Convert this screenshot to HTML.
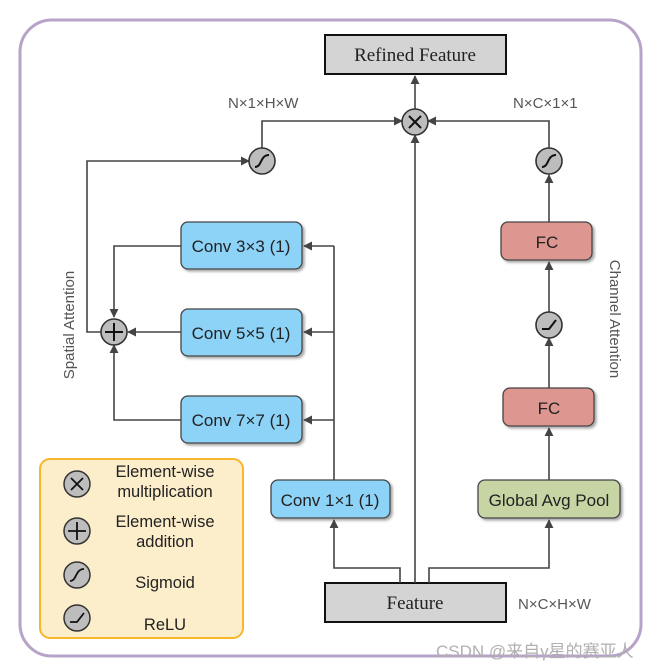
<!DOCTYPE html>
<html><head><meta charset="utf-8"><style>
html,body{margin:0;padding:0;background:#fff;}
svg{display:block;}
.s{font-family:"Liberation Sans","DejaVu Sans",sans-serif;}
</style></head><body>
<svg width="671" height="667" viewBox="0 0 671 667" xmlns="http://www.w3.org/2000/svg">
<defs>
<marker id="a" viewBox="0 0 10 10" refX="9" refY="5" markerWidth="9" markerHeight="9" markerUnits="userSpaceOnUse" orient="auto"><path d="M0,0 L10,5 L0,10 z" fill="#444"/></marker>
<filter id="sh" x="-10%" y="-10%" width="130%" height="140%"><feDropShadow dx="2" dy="2" stdDeviation="1.2" flood-color="#000" flood-opacity="0.35"/></filter>
</defs>
<rect x="20" y="20" width="621" height="636" rx="32" fill="#fff" stroke="#b8a3c8" stroke-width="3"/>

<rect x="325" y="35" width="181" height="39" fill="#d4d4d4" stroke="#111" stroke-width="2"/>
<text x="415" y="61" font-family="Liberation Serif,serif" font-size="19" text-anchor="middle" fill="#222">Refined Feature</text>
<rect x="325" y="583" width="181" height="39" fill="#d4d4d4" stroke="#111" stroke-width="2"/>
<text x="415" y="609" font-family="Liberation Serif,serif" font-size="19" text-anchor="middle" fill="#222">Feature</text>

<g filter="url(#sh)" stroke="#444" stroke-width="1.3">
<rect x="181" y="222" width="121" height="47" rx="7" fill="#8dd3f8"/>
<rect x="181" y="309" width="121" height="47" rx="7" fill="#8dd3f8"/>
<rect x="181" y="396" width="121" height="47" rx="7" fill="#8dd3f8"/>
<rect x="271" y="480" width="119" height="38" rx="7" fill="#8dd3f8"/>
<rect x="501" y="222" width="91" height="38" rx="7" fill="#de9690"/>
<rect x="503" y="388" width="91" height="38" rx="7" fill="#de9690"/>
<rect x="478" y="480" width="142" height="38" rx="7" fill="#c6d5a3"/>
</g>
<g class="s" font-size="17" text-anchor="middle" fill="#222">
<text x="241" y="252">Conv 3×3 (1)</text>
<text x="241" y="339">Conv 5×5 (1)</text>
<text x="241" y="426">Conv 7×7 (1)</text>
<text x="330" y="506">Conv 1×1 (1)</text>
<text x="547" y="248">FC</text>
<text x="549" y="414">FC</text>
<text x="549" y="506">Global Avg Pool</text>
</g>

<g stroke="#444" stroke-width="1.6" fill="none">
<path d="M415 109 V76" marker-end="url(#a)"/>
<path d="M415 583 V135" marker-end="url(#a)"/>
<path d="M262 149 V121 H402" marker-end="url(#a)"/>
<path d="M549 149 V121 H428" marker-end="url(#a)"/>
<path d="M549 222 V175" marker-end="url(#a)"/>
<path d="M549 312 V262" marker-end="url(#a)"/>
<path d="M549 388 V338" marker-end="url(#a)"/>
<path d="M549 480 V428" marker-end="url(#a)"/>
<path d="M429 583 V568 H549 V520" marker-end="url(#a)"/>
<path d="M400 583 V568 H334 V520" marker-end="url(#a)"/>
<path d="M334 480 V246"/>
<path d="M334 246 H304" marker-end="url(#a)"/>
<path d="M334 332 H304" marker-end="url(#a)"/>
<path d="M334 420 H304" marker-end="url(#a)"/>
<path d="M181 246 H114 V317" marker-end="url(#a)"/>
<path d="M181 420 H114 V345" marker-end="url(#a)"/>
<path d="M181 332 H128" marker-end="url(#a)"/>
<path d="M101 332 H87 V161 H249" marker-end="url(#a)"/>
</g>

<g stroke="#333" stroke-width="1.6" fill="#bdbdbd">
<circle cx="415" cy="122" r="13"/>
<circle cx="114" cy="332" r="13"/>
<circle cx="262" cy="161" r="13"/>
<circle cx="549" cy="161" r="13"/>
<circle cx="549" cy="325" r="13"/>
</g>
<g stroke="#111" stroke-width="2" fill="none">
<path d="M409 116 L421 128 M421 116 L409 128"/>
<path d="M105 332 H123 M114 323 V341"/>
<path d="M255 167 C262 167 260 155 269 155"/>
<path d="M542 167 C549 167 547 155 556 155"/>
<path d="M542 329 H549 L556 320"/>
</g>

<g class="s" font-size="15" fill="#555">
<text x="228" y="108">N×1×H×W</text>
<text x="513" y="108">N×C×1×1</text>
<text x="518" y="609">N×C×H×W</text>
<text transform="translate(74,325) rotate(-90)" text-anchor="middle" font-size="15">Spatial Attention</text>
<text transform="translate(610,319) rotate(90)" text-anchor="middle" font-size="15">Channel Attention</text>
</g>

<rect x="40" y="459" width="203" height="179" rx="10" fill="#fdeecb" stroke="#f7b62b" stroke-width="2"/>
<g stroke="#333" stroke-width="1.5" fill="#bdbdbd">
<circle cx="77" cy="484" r="13"/>
<circle cx="77" cy="531" r="13"/>
<circle cx="77" cy="575" r="13"/>
<circle cx="77" cy="618" r="13"/>
</g>
<g stroke="#111" stroke-width="1.8" fill="none">
<path d="M71 478 L83 490 M83 478 L71 490"/>
<path d="M68 531 H86 M77 522 V540"/>
<path d="M70 581 C77 581 75 569 84 569"/>
<path d="M70 622 H77 L84 613"/>
</g>
<g class="s" font-size="16.5" text-anchor="middle" fill="#222">
<text x="165" y="477">Element-wise</text>
<text x="165" y="497">multiplication</text>
<text x="165" y="527">Element-wise</text>
<text x="165" y="547">addition</text>
<text x="165" y="588">Sigmoid</text>
<text x="165" y="630">ReLU</text>
</g>

<text x="436" y="657" font-family="Liberation Sans,'Noto Sans CJK SC',sans-serif" font-size="17" fill="#b0b0b0">CSDN @来自γ星的赛亚人</text>
</svg>
</body></html>
